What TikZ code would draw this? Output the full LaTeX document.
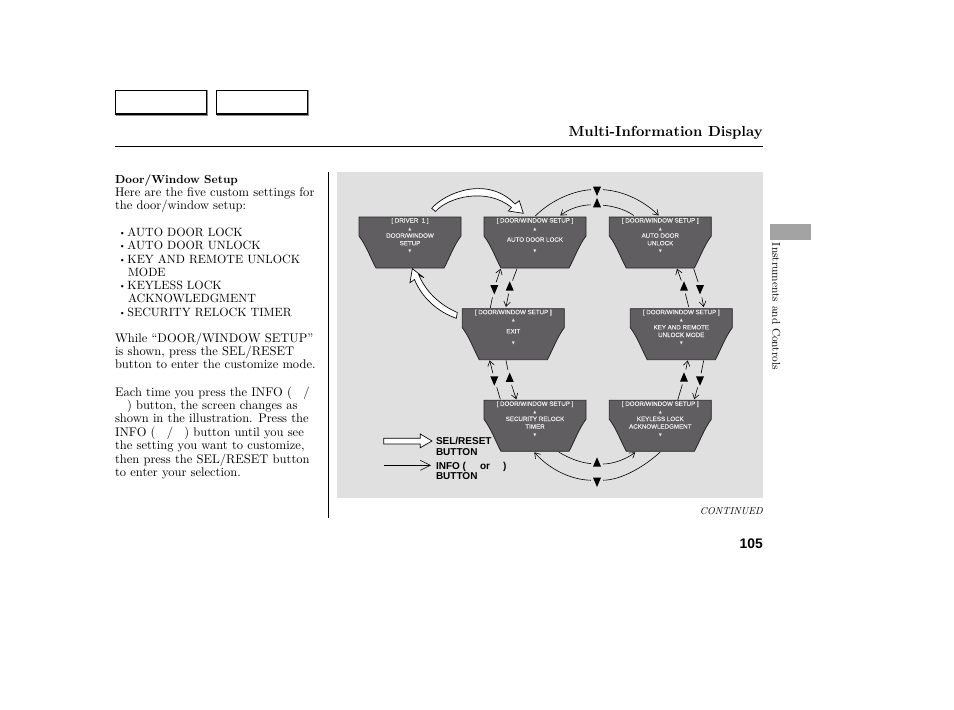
\documentclass[tikz,border=0pt]{standalone}
\usepackage{fontspec}
\usetikzlibrary{calc,arrows.meta,shapes.geometric}
\newfontfamily\sansf{Liberation Sans}
\newfontfamily\scrf[FakeBold=0.4]{Liberation Sans}
\newfontfamily\symf{DejaVu Sans}
\definecolor{panel}{HTML}{E0E0E0}
\definecolor{screen}{HTML}{605E60}
\definecolor{tabgray}{HTML}{A3A3A3}
\tikzset{
  body/.style={anchor=base west,inner sep=0pt,outer sep=0pt,font=\fontsize{10}{11}\selectfont,scale=0.94,transform shape},
  caps/.style={body,scale=0.957},
  scr/.style={inner sep=0pt,outer sep=0pt,minimum width=76.5pt,minimum height=38.25pt},
  scrshape/.style={fill=screen,draw=black!85,line width=0.6pt,line join=miter},
  scrtext/.style={inner sep=0pt,outer sep=0pt,text=white!92!black,align=center,font=\scrf\fontsize{4.65}{5.7}\selectfont},
  trid/.style={isosceles triangle,isosceles triangle apex angle=48,isosceles triangle stretches=true,fill=black,inner sep=0pt,outer sep=2.2pt,minimum width=6pt,minimum height=7pt,shape border rotate=-90},
  triu/.style={trid,shape border rotate=90},
  conn/.style={draw=black,line width=0.45pt},
  head/.style={-{Straight Barb[length=3.8pt,width=5pt,line width=0.45pt]}},
  hollow/.style={fill=white,draw=black,line width=0.5pt,line join=miter},
  legend/.style={anchor=base west,inner sep=0pt,outer sep=0pt,font=\sansf\bfseries\fontsize{7.5}{8}\selectfont},
  topbox/.style={draw=black,line width=0.9pt,fill=white}
}
\newcommand\up{{\symf\fontsize{3}{3}\selectfont ▲}}
\newcommand\dn{{\symf\fontsize{3}{3}\selectfont ▼}}
\newcommand\blt{\makebox[7.5pt][l]{\raisebox{0.3pt}{\fontsize{7}{7}\selectfont\textbullet}}}
\newcommand\screenbox[5]{%
  \begin{scope}[shift={(#2,#3)}]
    \path[scrshape] (0,0) -- (102,0) -- (102,19) .. controls (95,28) and (90,42) .. (85,51) -- (17,51) .. controls (12,42) and (7,28) .. (0,19) -- cycle;
    \node[scr] (#1) at (51,25.5) {};
    \node[scrtext] (#1t) at (51,18.7) {#4\\\up\\#5\\\dn};
  \end{scope}}
\begin{document}
\begin{tikzpicture}[x=0.75pt,y=-0.75pt]
\useasboundingbox (0,0) rectangle (954,710);
\fill[white] (0,0) rectangle (954,710);
% header
\path[draw=black!45,line width=0.9pt] (207.3,90.5) -- (207.3,115) -- (116,115);
\path[draw=black!45,line width=0.9pt] (308.3,90.5) -- (308.3,115) -- (217,115);
\node[topbox,inner sep=0pt,minimum width=68.2pt,minimum height=17.7pt] (tabA) at (161,102.3) {};
\node[topbox,inner sep=0pt,minimum width=68.2pt,minimum height=17.7pt] (tabB) at (262,102.3) {};
\node[anchor=base east,inner sep=0pt,font=\bfseries\fontsize{10}{14}\selectfont,scale=1.095,transform shape] (title) at (763,137) {Multi-Information Display};
\draw[line width=0.7pt] (115,146.5) -- (763,146.5);
\draw[line width=0.7pt] (328.5,172) -- (328.5,518);
% left text
\node[body,font=\bfseries\fontsize{10}{11}\selectfont,scale=0.93] (b1) at (115,183) {Door/Window Setup};
\node[body] (b2) at (115,196) {Here are the five custom settings for};
\node[body] (b3) at (115,209.5) {the door/window setup:};
\node[caps] (b4) at (118.5,236) {\blt AUTO DOOR LOCK};
\node[caps] (b5) at (118.5,249) {\blt AUTO DOOR UNLOCK};
\node[caps] (b6) at (118.5,263) {\blt KEY AND REMOTE UNLOCK};
\node[caps] (b7) at (128,276) {MODE};
\node[caps] (b8) at (118.5,289) {\blt KEYLESS LOCK};
\node[caps] (b9) at (128,302.5) {ACKNOWLEDGMENT};
\node[caps] (b10) at (118.5,316) {\blt SECURITY RELOCK TIMER};
\node[body] (b11) at (115,342) {While “DOOR/WINDOW SETUP”};
\node[body] (b12) at (115,355) {is shown, press the SEL/RESET};
\node[body] (b13) at (115,368.5) {button to enter the customize mode.};
\node[body] (b14) at (115,396) {Each time you press the INFO (\hspace{9pt}/};
\node[body] (b15) at (127,409) {) button, the screen changes as};
\node[body] (b16) at (115,422.5) {shown in the illustration. Press the};
\node[body] (b17) at (115,436) {INFO (\hspace{9pt}/\hspace{9pt}) button until you see};
\node[body] (b18) at (115,449.5) {the setting you want to customize,};
\node[body] (b19) at (115,463) {then press the SEL/RESET button};
\node[body] (b20) at (115,476.5) {to enter your selection.};
% panel
\fill[panel] (337,172) rectangle (763,498);
\screenbox{drv}{359}{217}{[ DRIVER\ \ 1 ]}{DOOR/WINDOW\\SETUP}
\screenbox{adl}{484}{217}{[ DOOR/WINDOW SETUP ]}{\raisebox{-3pt}{AUTO DOOR LOCK}\\~}
\screenbox{adu}{609.3}{217}{[ DOOR/WINDOW SETUP ]}{AUTO DOOR\\UNLOCK}
\screenbox{ext}{462.3}{308.7}{[ DOOR/WINDOW SETUP ]}{\raisebox{-3pt}{EXIT}\\~}
\screenbox{key}{630.3}{308.7}{[ DOOR/WINDOW SETUP ]}{KEY AND REMOTE\\UNLOCK MODE}
\screenbox{sec}{484}{400.3}{[ DOOR/WINDOW SETUP ]}{SECURITY RELOCK\\TIMER}
\screenbox{kll}{609.3}{400.3}{[ DOOR/WINDOW SETUP ]}{KEYLESS LOCK\\ACKNOWLEDGMENT}
% triangles
\node[trid] (t1) at (597,189.3) {};
\node[triu] (t2) at (597,204.7) {};
\node[trid] (t3) at (494.3,287.7) {};
\node[triu] (t4) at (509.7,288) {};
\node[triu] (t5) at (684,288) {};
\node[trid] (t6) at (700,287.7) {};
\node[trid] (t7) at (494.3,379) {};
\node[triu] (t8) at (509.7,379.3) {};
\node[triu] (t9) at (684,379) {};
\node[trid] (t10) at (700,379) {};
\node[triu] (t11) at (597,464) {};
\node[trid] (t12) at (597,480.3) {};
% top arcs
\draw[conn] ($(adl.north west)+(51.3,-1)$) .. controls (548,203) and (570,191) .. (t1);
\draw[conn,head] (t1) .. controls (625,191) and (645,202) .. ($(adu.north west)+(49.4,-1.5)$);
\draw[conn] ($(adu.north west)+(24.4,-1.5)$) .. controls (625,209) and (612,206) .. (t2);
\draw[conn,head] (t2) .. controls (582,205) and (570,208) .. ($(adl.north west)+(76.3,-1.5)$);
% adl - exit
\draw[conn] ($(ext.north west)+(28,-0.7)$) -- (t3);
\draw[conn,head] (t3) -- ($(adl.south west)+(16.7,0.7)$);
\draw[conn] ($(adl.south west)+(33,0.7)$) -- (t4);
\draw[conn,head] (t4) -- ($(ext.north west)+(43.7,-1.7)$);
% adu - key
\draw[conn] ($(key.north west)+(58.4,-1.7)$) -- (t5);
\draw[conn,head] (t5) -- ($(adu.south west)+(67.7,0.7)$);
\draw[conn] ($(adu.south west)+(84.4,0.7)$) -- (t6);
\draw[conn,head] (t6) -- ($(key.north west)+(73.4,-1.7)$);
% exit - sec
\draw[conn] ($(sec.north west)+(16.3,-1)$) -- (t7);
\draw[conn,head] (t7) -- ($(ext.south west)+(27.4,0.7)$);
\draw[conn] ($(ext.south west)+(43.7,0.7)$) -- (t8);
\draw[conn,head] (t8) -- ($(sec.north west)+(32.3,-1)$);
% key - kll
\draw[conn] ($(kll.north west)+(68.4,-0.3)$) -- (t9);
\draw[conn,head] (t9) -- ($(key.south west)+(57.4,0.7)$);
\draw[conn] ($(key.south west)+(73.4,0.7)$) -- (t10);
\draw[conn,head] (t10) -- ($(kll.north west)+(85,-1)$);
% bottom arcs
\draw[conn] ($(sec.south west)+(74.7,0.7)$) .. controls (570,459) and (582,463) .. (t11);
\draw[conn,head] (t11) .. controls (612,464) and (625,460) .. ($(kll.south west)+(26,1)$);
\draw[conn] ($(kll.south west)+(51,0.7)$) .. controls (645,466) and (622,480) .. (t12);
\draw[conn,head] (t12) .. controls (572,480) and (550,470) .. ($(sec.south west)+(50.3,1)$);
% white arrows
\path[hollow] (431.7,208.3) .. controls (445,193) and (487,175) .. (515,204) -- (519.3,200.7) -- (523.3,213.3) -- (508.3,211) -- (511.5,207.5) .. controls (487,187) and (448,197) .. (435.5,211.5) -- cycle;
\path[hollow] (457.3,312.5) .. controls (440,305) and (426,292) .. (418.8,275) -- (424,277.7) -- (412.3,268.7) -- (410,282.7) -- (414.5,279.5) .. controls (422,298) and (438,312) .. (456.3,318.3) -- cycle;
% legend
\path[hollow] (383.7,438.3) -- (420.3,438.3) -- (420.3,434) -- (432,441) -- (420.3,447.7) -- (420.3,444) -- (383.7,444) -- cycle;
\node[legend] (l1) at (436,444.5) {SEL/RESET};
\node[legend] (l2) at (436,455) {BUTTON};
\node[legend] (l3) at (436,469) {INFO (};
\node[legend] (l4) at (480,469) {or};
\node[legend] (l5) at (503,469) {)};
\node[legend] (l6) at (436,479.5) {BUTTON};
\coordinate (ls) at (383.7,465.3);
\coordinate (le) at (431,465.3);
\draw[conn,-{Straight Barb[length=7.5pt,width=7.5pt,line width=0.45pt]}] (ls) -- (le);
% footer
\node[anchor=base east,inner sep=0pt,font=\itshape\fontsize{10}{11}\selectfont,scale=0.755,transform shape] (cont) at (763,514) {CONTINUED};
\node[anchor=base east,inner sep=0pt,font=\sansf\bfseries\fontsize{10.4}{11}\selectfont] (pg) at (763,548) {105};
% side tab
\node[fill=tabgray,inner sep=0pt,minimum width=30.75pt,minimum height=12pt] (side) at (790.5,232) {};
\node[rotate=-90,inner sep=0pt,font=\fontsize{10}{11}\selectfont,scale=0.85,transform shape] (sidet) at (776.3,306.5) {Instruments and Controls};
\end{tikzpicture}
\end{document}
